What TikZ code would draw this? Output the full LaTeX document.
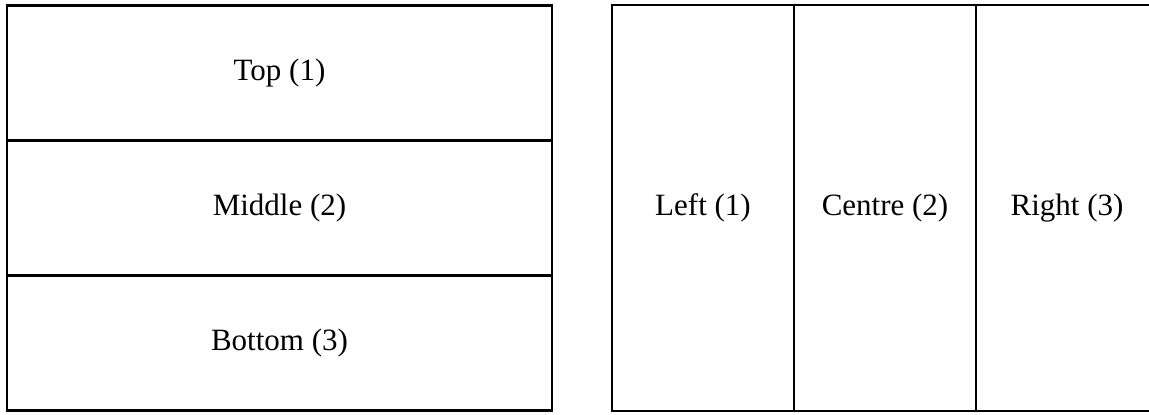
\documentclass[tikz,border=0pt]{standalone}
\usepackage{fontspec}
\setmainfont{Liberation Serif}

\begin{document}
\begin{tikzpicture}[
  x=0.5pt, y=-0.5pt,
  font=\fontsize{15.5}{18}\selectfont,
  cell/.style={rectangle, draw, line width=1.1pt, inner sep=0pt, outer sep=0pt,
               align=center},
  rowcell/.style={cell, minimum width=272.5pt, minimum height=67.5pt},
  colcell/.style={cell, minimum width=91pt, minimum height=203pt}
]
  \useasboundingbox (0,0) rectangle (1149,414);

  % ---- left panel: stacked rows ----
  \node[rowcell] (top) at (279.5,73) {Top (1)};
  \node[rowcell] (middle) at (279.5,208) {Middle (2)};
  \node[rowcell] (bottom) at (279.5,343) {Bottom (3)};

  % ---- right panel: side by side columns ----
  \node[colcell] (left) at (703,208) {Left (1)};
  \node[colcell] (centre) at (885,208) {Centre (2)};
  \node[colcell] (right) at (1067,208) {Right (3)};
\end{tikzpicture}
\end{document}
